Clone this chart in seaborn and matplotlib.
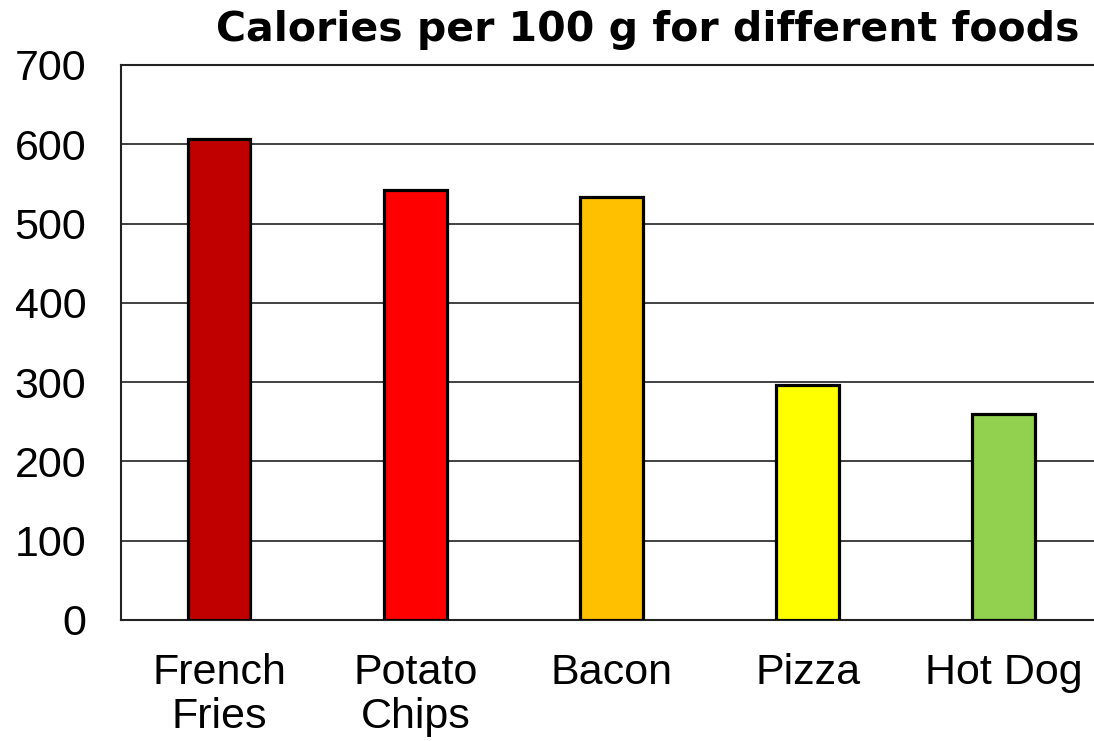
import matplotlib
matplotlib.use("Agg")
import matplotlib.pyplot as plt
import seaborn as sns
import pandas as pd

# Chart data
foods = ["French\nFries", "Potato\nChips", "Bacon", "Pizza", "Hot Dog"]
calories = [607, 542, 533, 297, 260]
bar_colors = ["#C00000", "#FF0000", "#FFC000", "#FFFF00", "#92D050"]

df = pd.DataFrame({"Food": foods, "Calories": calories})

sns.set_style("white")
plt.rcParams["font.family"] = ["Liberation Sans", "DejaVu Sans"]

fig = plt.figure(figsize=(10.94, 7.41), dpi=100)
# plot area runs slightly past the right edge of the image, as in the original
ax = fig.add_axes([0.1106, 0.1633, 0.8967, 0.749])

sns.barplot(data=df, x="Food", y="Calories", hue="Food", palette=bar_colors,
            saturation=1, legend=False, width=0.32, edgecolor="black",
            linewidth=2.3, ax=ax, zorder=3)

ax.set_ylim(0, 700)
ax.set_yticks(range(0, 701, 100))
ax.yaxis.grid(True, color="#333333", linewidth=1.3, zorder=0)
ax.set_axisbelow(True)
ax.set_xlim(-0.5, 4.5)

for side in ["left", "top", "bottom"]:
    ax.spines[side].set_color("#222222")
    ax.spines[side].set_linewidth(1.5)
ax.spines["right"].set_visible(False)

ax.tick_params(axis="both", length=0, labelsize=31, labelcolor="black")
ax.tick_params(axis="x", pad=24)
ax.tick_params(axis="y", pad=25)
for lab in ax.get_xticklabels():
    lab.set_linespacing(1.12)
ax.set_xlabel("")
ax.set_ylabel("")

fig.text(0.592, 0.96, "Calories per 100 g for different foods",
         ha="center", va="center", fontsize=29.5, fontweight="bold",
         family="DejaVu Sans", color="black")

fig.savefig("out.png", dpi=100)
